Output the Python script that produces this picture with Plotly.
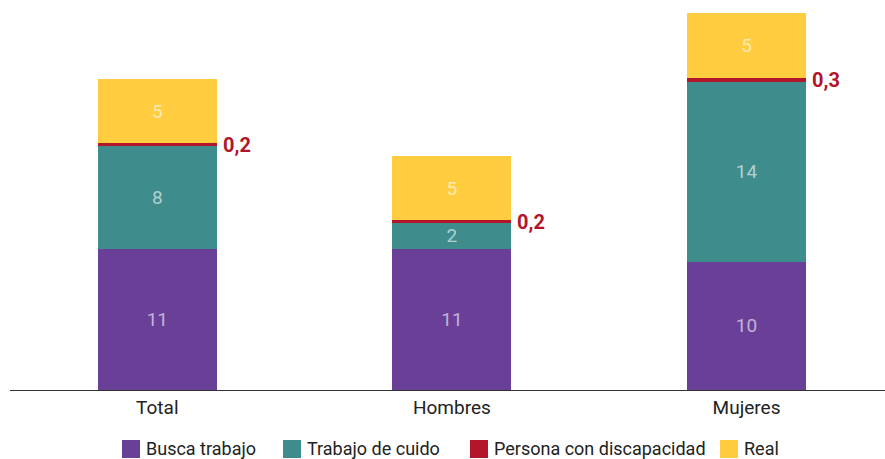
import plotly.graph_objects as go

categories = ["Total", "Hombres", "Mujeres"]
busca_trabajo = [11, 11, 10]
trabajo_cuido = [8, 2, 14]
discapacidad = [0.2, 0.2, 0.3]
real = [5, 5, 5]

labels_disc = ["0,2", "0,2", "0,3"]

series_names = ["Busca trabajo", "Trabajo de cuido", "Persona con discapacidad", "Real"]
series_colors = ["#6a3f98", "#3e8c8c", "#b3162a", "#ffcd3f"]

FONT = "Roboto"
inner_font = dict(family=FONT, size=19, color="rgba(255,255,255,0.6)")
xpos = list(range(len(categories)))
bar_w = 0.404

W, H = 885, 459
ML, MR, MT, MB = 10, 0, 0, 69

fig = go.Figure()
series_values = [busca_trabajo, trabajo_cuido, discapacidad, real]
for name, color, vals in zip(series_names, series_colors, series_values):
    show_text = name != "Persona con discapacidad"
    fig.add_bar(
        x=xpos, y=vals, name=name, marker=dict(color=color, line=dict(width=0)),
        width=bar_w,
        text=[str(v) for v in vals] if show_text else None,
        textposition="inside" if show_text else "none",
        insidetextanchor="middle", textangle=0, constraintext="none",
        textfont=inner_font, showlegend=False,
    )

# outside value labels for the thin disability segment
for i in xpos:
    y_mid = busca_trabajo[i] + trabajo_cuido[i] + discapacidad[i] / 2
    fig.add_annotation(x=i + bar_w / 2, y=y_mid, text=labels_disc[i], showarrow=False,
                       xanchor="left", yanchor="middle", xshift=4,
                       font=dict(family=FONT, size=20, color="#b3162a", weight="bold"))

# legend drawn with square swatches
legend_x = [122, 283, 470, 720]
legend_y = 449
sq = 18
for px, name, color in zip(legend_x, series_names, series_colors):
    x0 = (px - ML) / (W - ML - MR)
    x1 = (px + sq - ML) / (W - ML - MR)
    y0 = (H - MB - (legend_y + sq / 2)) / (H - MT - MB)
    y1 = (H - MB - (legend_y - sq / 2)) / (H - MT - MB)
    fig.add_shape(type="rect", xref="paper", yref="paper", x0=x0, x1=x1, y0=y0, y1=y1,
                  fillcolor=color, line=dict(width=0))
    fig.add_annotation(xref="paper", yref="paper", x=x1, xshift=4,
                       y=(y0 + y1) / 2, text=name, showarrow=False,
                       xanchor="left", yanchor="middle",
                       font=dict(family=FONT, size=18, color="#222222"))

fig.update_layout(
    barmode="stack",
    width=W, height=H,
    margin=dict(l=ML, r=MR, t=MT, b=MB),
    plot_bgcolor="white", paper_bgcolor="white",
    font=dict(family=FONT, size=18, color="#222222"),
    showlegend=False,
    xaxis=dict(range=[-0.5, 2.47], tickvals=xpos, ticktext=categories,
               showline=True, linecolor="#333333", linewidth=1, showgrid=False,
               ticks="", zeroline=False, tickfont=dict(size=19)),
    yaxis=dict(range=[0, 30.35], visible=False, showgrid=False, zeroline=False),
)

fig.write_html("out.html")
